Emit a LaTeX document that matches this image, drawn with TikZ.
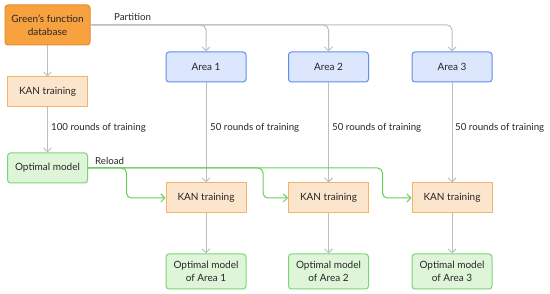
\documentclass[tikz,border=0pt]{standalone}
\usepackage{fontspec}
\setmainfont{Lato}
\usetikzlibrary{arrows.meta,calc}
\definecolor{txt}{HTML}{262626}
\definecolor{gline}{HTML}{BDBDBD}
\definecolor{grn}{HTML}{6CCB5F}
\definecolor{dbfill}{HTML}{F8A13F}
\definecolor{dbdraw}{HTML}{E58A2C}
\definecolor{kanfill}{HTML}{FCE5CD}
\definecolor{kandraw}{HTML}{F5B36A}
\definecolor{areafill}{HTML}{DCE6FC}
\definecolor{areadraw}{HTML}{5E8FEA}
\definecolor{optfill}{HTML}{DFF5D8}
\definecolor{optdraw}{HTML}{7DD478}
\tikzset{
  box/.style={minimum width=80pt, minimum height=30pt, inner sep=1pt, align=center, text=txt, font=\fontsize{10}{12.5}\selectfont, line width=1pt},
  dbbox/.style={box, fill=dbfill, draw=dbdraw, rounded corners=3pt, minimum width=85pt, minimum height=40pt},
  kanbox/.style={box, fill=kanfill, draw=kandraw},
  areabox/.style={box, fill=areafill, draw=areadraw, rounded corners=3pt},
  optbox/.style={box, fill=optfill, draw=optdraw, rounded corners=3pt},
  garrow/.style={draw=gline, line width=1pt, -{Straight Barb[length=4pt,width=8pt]}, rounded corners=5pt},
  grarrow/.style={draw=grn, line width=1pt, -{Straight Barb[length=4pt,width=8pt]}, rounded corners=5pt},
  lbl/.style={text=txt, font=\fontsize{9.7}{11}\selectfont, inner sep=0pt, anchor=west}
}
\begin{document}
\begin{tikzpicture}[x=1pt,y=-1pt]
\useasboundingbox (0,0) rectangle (550,294);
\node[dbbox] (db) at (47.5,25) {Green's function\\database};
\node[kanbox] (k0) at (47.5,92) {KAN training};
\node[optbox] (o0) at (47.5,168) {Optimal model};
\node[areabox] (a1) at (206,67) {Area 1};
\node[areabox] (a2) at (328.5,67) {Area 2};
\node[areabox] (a3) at (452,67) {Area 3};
\node[kanbox] (k1) at (206,198) {KAN training};
\node[kanbox] (k2) at (328.5,198) {KAN training};
\node[kanbox] (k3) at (452,198) {KAN training};
\node[optbox, minimum height=35pt] (o1) at (206,271.5) {Optimal model\\of Area 1};
\node[optbox, minimum height=35pt] (o2) at (328.5,271.5) {Optimal model\\of Area 2};
\node[optbox, minimum height=35pt] (o3) at (452,271.5) {Optimal model\\of Area 3};
% partition
\draw[garrow] (db.east) -| (a3.north);
\draw[garrow] (db.east) -| (a2.north);
\draw[garrow] (db.east) -| (a1.north);
\node[lbl] (pl) at (114,17) {Partition};
% left column
\draw[garrow] (db.south) -- (k0.north);
\draw[garrow] (k0.south) -- (o0.north);
\node[lbl] (l0) at (51,128) {100 rounds of training};
% columns
\draw[garrow] (a1.south) -- (k1.north);
\draw[garrow] (a2.south) -- (k2.north);
\draw[garrow] (a3.south) -- (k3.north);
\node[lbl] (l1) at (210,128) {50 rounds of training};
\node[lbl] (l2) at (332,128) {50 rounds of training};
\node[lbl] (l3) at (455,128) {50 rounds of training};
\draw[garrow] (k1.south) -- (o1.north);
\draw[garrow] (k2.south) -- (o2.north);
\draw[garrow] (k3.south) -- (o3.north);
% reload
\coordinate (c1) at ($(k1.west)+(-39,0)$);
\coordinate (c2) at ($(k2.west)+(-25,0)$);
\coordinate (c3) at ($(k3.west)+(-29,0)$);
\draw[grarrow] (o0.east) -| (c3) -- (k3.west);
\draw[grarrow] (o0.east) -| (c2) -- (k2.west);
\draw[grarrow] (o0.east) -| (c1) -- (k1.west);
\node[lbl] (rl) at (95,161) {Reload};
\end{tikzpicture}
\end{document}
